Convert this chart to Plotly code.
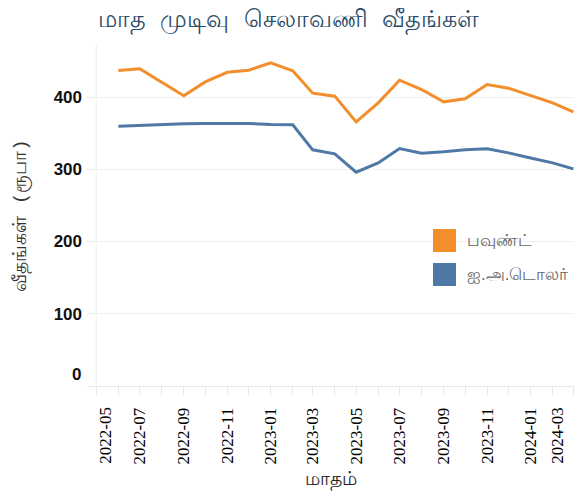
import plotly.graph_objects as go

MONTHS = ["2022-06", "2022-07", "2022-08", "2022-09", "2022-10", "2022-11", "2022-12",
          "2023-01", "2023-02", "2023-03", "2023-04", "2023-05", "2023-06", "2023-07",
          "2023-08", "2023-09", "2023-10", "2023-11", "2023-12", "2024-01", "2024-02",
          "2024-03"]
GBP = [436.7, 439.1, 420.5, 401.8, 420.9, 434.2, 437.0, 447.4, 436.4, 405.3, 401.2,
       365.6, 392.0, 423.3, 410.4, 393.3, 397.5, 417.3, 412.2, 402.1, 392.0, 379.5]
USD = [359.6, 361.0, 361.5, 362.9, 363.3, 363.3, 363.3, 361.9, 361.5, 326.9, 321.3,
       295.9, 308.8, 328.7, 322.2, 324.1, 326.9, 328.3, 322.7, 315.7, 308.8, 300.5]
SERIES = ["பவுண்ட்", "ஐ.அ.டொலர்"]
COLORS = ["#f28e2b", "#4e79a7"]
X_TICKS = ["2022-05", "2022-07", "2022-09", "2022-11", "2023-01", "2023-03", "2023-05",
           "2023-07", "2023-09", "2023-11", "2024-01", "2024-03"]
Y_TICKS = [0, 100, 200, 300, 400]

TITLE = "மாத முடிவு செலாவணி வீதங்கள்"
X_TITLE = "மாதம்"
Y_TITLE = "வீதங்கள் (ரூபா)"

# page body has an 8px margin: design in screen coords minus 8
OFF = 8
W, H = 585 - OFF, 493 - OFF
PL, PR, PT, PB = 87 - OFF, 574 - OFF, 45 - OFF, 386 - OFF
PW, PH = PR - PL, PB - PT

dates = [m + "-01" for m in MONTHS]
tick_dates = [m + "-01" for m in X_TICKS]

fig = go.Figure()
for name, vals, col in zip(SERIES, [GBP, USD], COLORS):
    fig.add_trace(go.Scatter(x=dates, y=vals, mode="lines", name=name,
                             line=dict(color=col, width=3), showlegend=False))

tick_text = [""] + X_TICKS[1:-1] + [""]
serif = "Liberation Serif, Times New Roman, serif"
mono = "Liberation Mono, DejaVu Sans Mono, monospace"
sans = "Liberation Sans, Arial, sans-serif"

annotations = [
    dict(x=tick_dates[0], y=0, xref="x", yref="paper", text=X_TICKS[0], textangle=-90,
         showarrow=False, xanchor="center", yanchor="top", xshift=9, yshift=-19,
         font=dict(family=serif, size=17, color="#000")),
    dict(x=tick_dates[-1], y=0, xref="x", yref="paper", text=X_TICKS[-1], textangle=-90,
         showarrow=False, xanchor="center", yanchor="top", xshift=-16, yshift=-19,
         font=dict(family=serif, size=17, color="#000")),
    dict(x=0, y=Y_TICKS[0], xref="paper", yref="y", text=str(Y_TICKS[0]),
         showarrow=False, xanchor="right", yanchor="middle", xshift=-4, yshift=12,
         font=dict(family=sans, size=17, color="#111", weight="bold")),
]

shapes = []
leg_y = [240.5 - OFF, 274.5 - OFF]
for name, col, yc in zip(SERIES, COLORS, leg_y):
    shapes.append(dict(type="rect", xref="paper", yref="paper",
                       x0=(433 - OFF - PL) / PW, x1=(456 - OFF - PL) / PW,
                       y0=(PB - yc - 11.5) / PH, y1=(PB - yc + 11.5) / PH,
                       fillcolor=col, line=dict(width=0)))
    annotations.append(dict(x=(465 - OFF - PL) / PW, y=(PB - yc) / PH,
                            xref="paper", yref="paper",
                            text=name, showarrow=False, xanchor="left", yanchor="middle",
                            font=dict(family=sans, size=17, color="#666")))

shapes.append(dict(type="line", xref="x", yref="paper", x0=tick_dates[0], x1=tick_dates[0],
                   y0=0, y1=1, line=dict(color="#eeeeee", width=1), layer="below"))

fig.update_layout(
    width=W, height=H,
    margin=dict(l=PL, r=W - PR, t=PT, b=H - PB),
    paper_bgcolor="white", plot_bgcolor="white",
    title=dict(text=TITLE, x=(98 - OFF) / W, xref="container", xanchor="left",
               y=1 - (19 - OFF) / H, yref="container", yanchor="middle",
               font=dict(family=mono, size=24, color="#2a4a68")),
    xaxis=dict(type="date", range=["2022-04-18", "2024-03-02"],
               tickmode="array", tickvals=tick_dates, ticktext=tick_text,
               tickangle=-90, ticks="outside", ticklen=8, tickcolor="#e6e6e6",
               minor=dict(dtick="M1", tick0="2022-05-01", ticks="outside", ticklen=8,
                          tickcolor="#e6e6e6", showgrid=False),
               showgrid=False, showline=True, linecolor="#e6e6e6", linewidth=1,
               zeroline=False, ticklabelstandoff=6,
               tickfont=dict(family=serif, size=17, color="#000"),
               title=dict(text=X_TITLE, font=dict(family=mono, size=19, color="#222"),
                          standoff=8),
               automargin=False),
    yaxis=dict(range=[0, 472], tickmode="array", tickvals=Y_TICKS,
               ticktext=[""] + [str(v) for v in Y_TICKS[1:]],
               showgrid=True, gridcolor="#efefef", gridwidth=1, zeroline=False,
               showline=False, ticks="", ticklabelstandoff=4,
               tickfont=dict(family=sans, size=17, color="#111", weight="bold"),
               title=dict(text=Y_TITLE, font=dict(family=mono, size=19, color="#333"),
                          standoff=21),
               automargin=False),
    annotations=annotations, shapes=shapes,
    showlegend=False,
)

fig.write_html("out.html")
